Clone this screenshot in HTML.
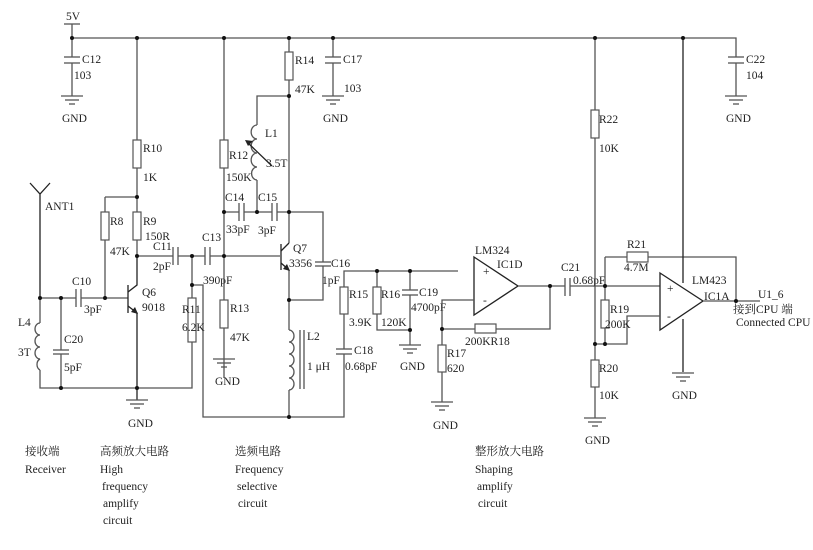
<!DOCTYPE html>
<html><head><meta charset="utf-8"><style>
html,body{margin:0;padding:0;background:#fff;}
svg{display:block;}
text{font-family:"Liberation Serif","Noto Serif CJK SC","Noto Sans CJK SC",serif;font-size:11.5px;fill:#222;}
.w{stroke:#555;stroke-width:1.3;fill:none;}
.k{stroke:#222;stroke-width:1.3;fill:none;}
.r{stroke:#555;stroke-width:1.2;fill:#fff;}
</style></head><body>
<svg width="813" height="550" viewBox="0 0 813 550" xmlns="http://www.w3.org/2000/svg">
<defs>
<g id="gnd"><line x1="-11" y1="0" x2="11" y2="0" class="w"/><line x1="-7" y1="4" x2="7" y2="4" class="w"/><line x1="-3" y1="8" x2="3" y2="8" class="w"/></g>
</defs>
<!-- rail -->
<path class="w" d="M72,24 V38 H736 V52"/>
<line x1="64" y1="24" x2="80" y2="24" class="w"/>
<text x="66" y="20">5V</text>
<!-- C12 -->
<path class="w" d="M72,38 V57 M72,63 V96"/><line x1="64" y1="57" x2="80" y2="57" class="w"/><line x1="64" y1="63" x2="80" y2="63" class="w"/>
<use href="#gnd" x="72" y="96"/><text x="82" y="63">C12</text><text x="74" y="79">103</text><text x="62" y="122">GND</text>
<!-- C17 -->
<path class="w" d="M333,38 V57 M333,63 V96"/><line x1="325" y1="57" x2="341" y2="57" class="w"/><line x1="325" y1="63" x2="341" y2="63" class="w"/>
<use href="#gnd" x="333" y="96"/><text x="343" y="63">C17</text><text x="344" y="92">103</text><text x="323" y="122">GND</text>
<!-- C22 -->
<path class="w" d="M736,52 V57 M736,63 V96"/><line x1="728" y1="57" x2="744" y2="57" class="w"/><line x1="728" y1="63" x2="744" y2="63" class="w"/>
<use href="#gnd" x="736" y="96"/><text x="746" y="63">C22</text><text x="746" y="79">104</text><text x="726" y="122">GND</text>
<!-- R10 R9 R8 -->
<path class="w" d="M137,38 V256 M105,197 H137 M105,197 V298"/>
<rect x="133" y="140" width="8" height="28" class="r"/><text x="143" y="152">R10</text><text x="143" y="181">1K</text>
<rect x="133" y="212" width="8" height="28" class="r"/><text x="143" y="225">R9</text><text x="145" y="240">150R</text>
<rect x="101" y="212" width="8" height="28" class="r"/><text x="110" y="225">R8</text><text x="110" y="255">47K</text>
<!-- C11 C13 row -->
<path class="w" d="M137,256 H173 M178,256 H205 M210,256 H280"/>
<line x1="173" y1="247" x2="173" y2="265" class="w"/><line x1="178" y1="247" x2="178" y2="265" class="w"/>
<line x1="205" y1="247" x2="205" y2="265" class="w"/><line x1="210" y1="247" x2="210" y2="265" class="w"/>
<text x="153" y="250">C11</text><text x="153" y="270">2pF</text><text x="202" y="241">C13</text><text x="203" y="284">390pF</text>
<!-- R12 R13 -->
<path class="w" d="M224,38 V378"/>
<rect x="220" y="140" width="8" height="28" class="r"/><text x="229" y="159">R12</text><text x="226" y="181">150K</text>
<rect x="220" y="300" width="8" height="28" class="r"/><text x="230" y="312">R13</text><text x="230" y="341">47K</text>
<use href="#gnd" x="224" y="359"/><text x="215" y="385">GND</text>
<!-- C14 C15 -->
<path class="w" d="M224,212 H239 M244,212 H272 M277,212 H323 V262 M323,266 V300 H289"/>
<line x1="239" y1="203" x2="239" y2="221" class="w"/><line x1="244" y1="203" x2="244" y2="221" class="w"/>
<line x1="272" y1="203" x2="272" y2="221" class="w"/><line x1="277" y1="203" x2="277" y2="221" class="w"/>
<line x1="315" y1="262" x2="331" y2="262" class="w"/><line x1="315" y1="266" x2="331" y2="266" class="w"/>
<text x="225" y="201">C14</text><text x="226" y="233">33pF</text><text x="258" y="201">C15</text><text x="258" y="234">3pF</text>
<text x="331" y="267">C16</text><text x="322" y="284">1pF</text>
<!-- R14 L1 -->
<path class="w" d="M289,38 V243 M289,270 V330 M289,390 V417"/>
<rect x="285" y="52" width="8" height="28" class="r"/><text x="295" y="64">R14</text><text x="295" y="93">47K</text>
<path class="w" d="M289,96 H257 V125 M257,180 V212"/>
<path class="w" d="M257,125 a5,6 0 0 0 0,14 a5,6 0 0 0 0,14 a5,6 0 0 0 0,14 a5,6 0 0 0 0,13"/>
<line x1="272" y1="166" x2="247" y2="142" class="k"/><path d="M245,140 l8,1 l-5,5 z" fill="#222"/>
<text x="265" y="137">L1</text><text x="266" y="167">3.5T</text>
<!-- Q7 -->
<line x1="281" y1="244" x2="281" y2="270" class="k"/>
<path class="k" d="M281,251 L289,243 M281,263 L289,270"/><path d="M290,271 l-7,-2 l4,-5 z" fill="#222"/>
<text x="293" y="252">Q7</text><text x="289" y="267">3356</text>
<!-- L2 -->
<path class="w" d="M289,330 a5,6 0 0 1 0,12 a5,6 0 0 1 0,12 a5,6 0 0 1 0,12 a5,6 0 0 1 0,12 a5,6 0 0 1 0,12"/>
<line x1="300" y1="330" x2="300" y2="389" class="w"/><line x1="304" y1="330" x2="304" y2="389" class="w"/>
<text x="307" y="340">L2</text><text x="307" y="370">1 μH</text>
<!-- bottom loop -->
<path class="w" d="M192,285 H203 V417 H344 V354 M344,349 V271 H458"/>
<line x1="336" y1="349" x2="352" y2="349" class="w"/><line x1="336" y1="354" x2="352" y2="354" class="w"/>
<text x="354" y="354">C18</text><text x="345" y="370">0.68pF</text>
<rect x="340" y="287" width="8" height="27" class="r"/><text x="349" y="298">R15</text><text x="349" y="326">3.9K</text>
<path class="w" d="M377,271 V330 H410 M410,271 V290 M410,295 V345"/>
<rect x="373" y="287" width="8" height="27" class="r"/><text x="381" y="298">R16</text><text x="381" y="326">120K</text>
<line x1="402" y1="290" x2="418" y2="290" class="w"/><line x1="402" y1="295" x2="418" y2="295" class="w"/>
<text x="419" y="296">C19</text><text x="411" y="311">4700pF</text>
<use href="#gnd" x="410" y="345"/><text x="400" y="370">GND</text>
<!-- left -->
<path class="k" d="M30,183 L40,194 L50,183 M40,194 V298"/><text x="45" y="210">ANT1</text>
<path class="w" d="M40,298 V323 M40,370 V388 H192 V342 M192,298 V256"/>
<path class="w" d="M40,323 a5,6 0 0 0 0,12 a5,6 0 0 0 0,12 a5,6 0 0 0 0,12 a5,6 0 0 0 0,11"/>
<text x="18" y="326">L4</text><text x="18" y="356">3T</text>
<path class="w" d="M40,298 H76 M81,298 H128 M61,298 V350 M61,354 V388"/>
<line x1="76" y1="289" x2="76" y2="307" class="w"/><line x1="81" y1="289" x2="81" y2="307" class="w"/>
<line x1="53" y1="350" x2="69" y2="350" class="w"/><line x1="53" y1="354" x2="69" y2="354" class="w"/>
<text x="72" y="285">C10</text><text x="84" y="313">3pF</text><text x="64" y="343">C20</text><text x="64" y="371">5pF</text>
<rect x="188" y="298" width="8" height="44" class="r"/><text x="182" y="313">R11</text><text x="182" y="331">6.2K</text>
<line x1="128" y1="285" x2="128" y2="313" class="k"/>
<path class="k" d="M128,292 L137,285 V256 M128,306 L137,313 V400"/><path d="M138,314 l-7,-2 l4,-5 z" fill="#222"/>
<text x="142" y="296">Q6</text><text x="142" y="311">9018</text>
<use href="#gnd" x="137" y="400"/><text x="128" y="427">GND</text>
<!-- IC1D -->
<path class="k" d="M474,257 L518,286 L474,315 Z"/>
<path class="w" d="M518,286 H565 M570,286 H660 M550,286 V329 H495 M475,329 H442 V300 H474 M442,329 V345 M442,372 V402"/>
<rect x="475" y="324" width="21" height="9" class="r"/><text x="465" y="345">200KR18</text>
<rect x="438" y="345" width="8" height="27" class="r"/><text x="447" y="357">R17</text><text x="447" y="372">620</text>
<use href="#gnd" x="442" y="402"/><text x="433" y="429">GND</text>
<text x="475" y="254">LM324</text><text x="497" y="268">IC1D</text><text x="483" y="275">+</text><text x="483" y="304">-</text>
<line x1="565" y1="278" x2="565" y2="296" class="w"/><line x1="570" y1="278" x2="570" y2="296" class="w"/>
<text x="561" y="271">C21</text><text x="573" y="284">0.68pF</text>
<!-- IC1A -->
<path class="k" d="M660,273 L703,301 L660,330 Z"/>
<path class="w" d="M595,38 V110 M595,138 V360 M595,387 V418 M605,257 H627 M648,257 H736 V301 M703,301 H760 M605,257 V300 M605,328 V344 H627 V316 H660 M595,344 H605"/>
<path class="k" d="M683,38 V283 M683,319 V372"/>
<rect x="591" y="110" width="8" height="28" class="r"/><text x="599" y="123">R22</text><text x="599" y="152">10K</text>
<rect x="601" y="300" width="8" height="28" class="r"/><text x="610" y="313">R19</text><text x="605" y="328">200K</text>
<rect x="591" y="360" width="8" height="27" class="r"/><text x="599" y="372">R20</text><text x="599" y="399">10K</text>
<rect x="627" y="252" width="21" height="10" class="r"/><text x="627" y="248">R21</text><text x="624" y="271">4.7M</text>
<use href="#gnd" x="595" y="418"/><text x="585" y="444">GND</text>
<use href="#gnd" x="683" y="373"/><text x="672" y="399">GND</text>
<text x="692" y="284">LM423</text><text x="704" y="300">IC1A</text><text x="667" y="292">+</text><text x="667" y="320">-</text>
<text x="758" y="298">U1_6</text><text x="733" y="313">接到CPU 端</text><text x="736" y="326">Connected CPU</text>
<!-- junctions -->
<g fill="#111">
<circle cx="72" cy="38" r="2"/><circle cx="137" cy="38" r="2"/><circle cx="224" cy="38" r="2"/><circle cx="289" cy="38" r="2"/><circle cx="333" cy="38" r="2"/><circle cx="595" cy="38" r="2"/><circle cx="683" cy="38" r="2"/>
<circle cx="289" cy="96" r="2"/><circle cx="137" cy="197" r="2"/><circle cx="137" cy="256" r="2"/><circle cx="192" cy="256" r="2"/><circle cx="224" cy="256" r="2"/>
<circle cx="224" cy="212" r="2"/><circle cx="257" cy="212" r="2"/><circle cx="289" cy="212" r="2"/><circle cx="289" cy="300" r="2"/><circle cx="289" cy="417" r="2"/>
<circle cx="192" cy="285" r="2"/><circle cx="40" cy="298" r="2"/><circle cx="61" cy="298" r="2"/><circle cx="105" cy="298" r="2"/><circle cx="61" cy="388" r="2"/><circle cx="137" cy="388" r="2"/>
<circle cx="377" cy="271" r="2"/><circle cx="410" cy="271" r="2"/><circle cx="410" cy="330" r="2"/><circle cx="550" cy="286" r="2"/><circle cx="442" cy="329" r="2"/>
<circle cx="605" cy="286" r="2"/><circle cx="605" cy="344" r="2"/><circle cx="595" cy="344" r="2"/><circle cx="736" cy="301" r="2"/>
</g>
<!-- captions -->
<text x="25" y="455">接收端</text><text x="25" y="473">Receiver</text>
<text x="100" y="455">高频放大电路</text><text x="100" y="473">High</text><text x="102" y="490">frequency</text><text x="103" y="507">amplify</text><text x="103" y="524">circuit</text>
<text x="235" y="455">选频电路</text><text x="235" y="473">Frequency</text><text x="237" y="490">selective</text><text x="238" y="507">circuit</text>
<text x="475" y="455">整形放大电路</text><text x="475" y="473">Shaping</text><text x="477" y="490">amplify</text><text x="478" y="507">circuit</text>
</svg>
</body></html>
